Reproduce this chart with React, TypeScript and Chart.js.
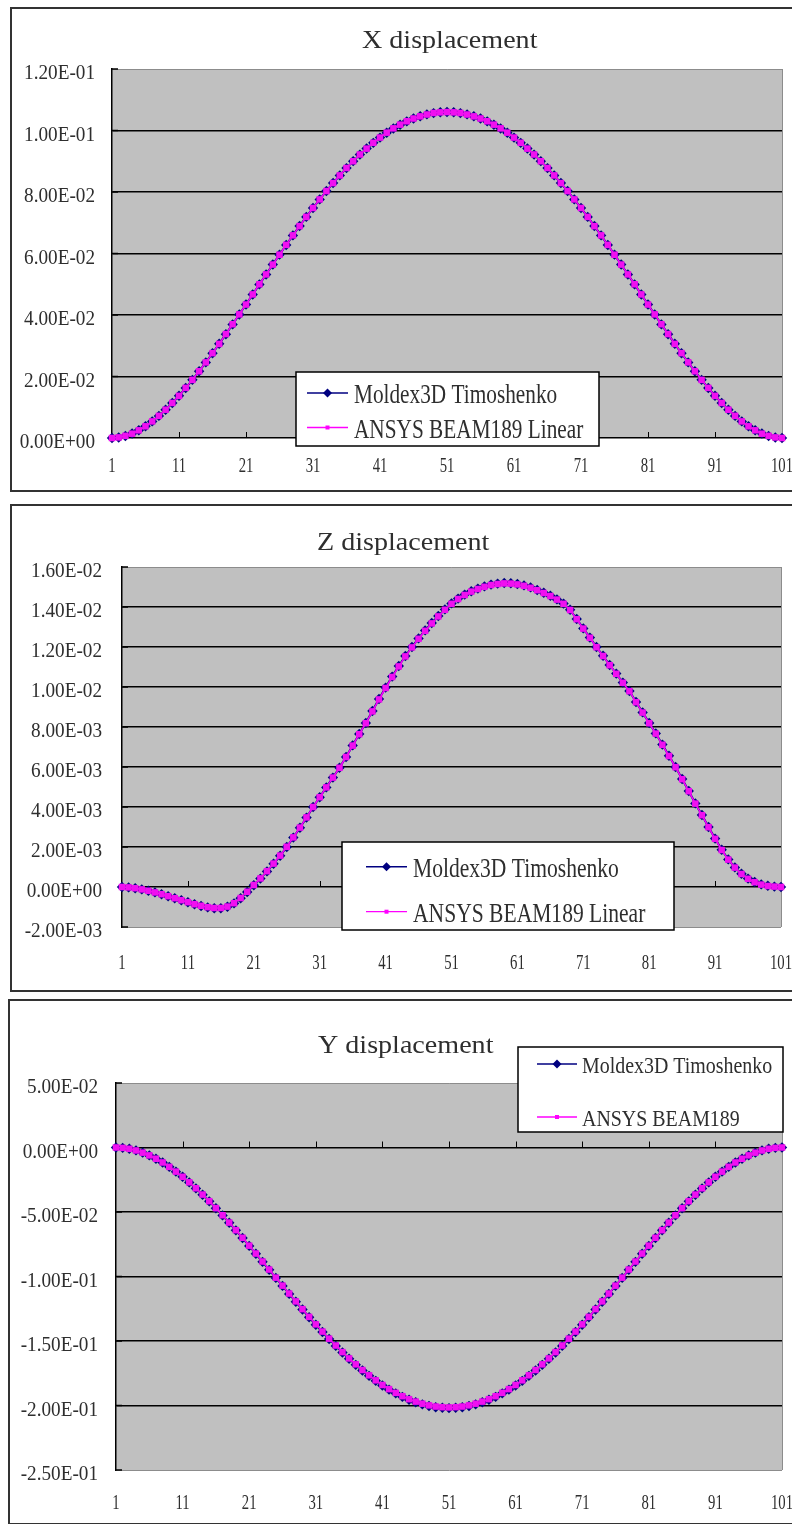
import React, { useEffect, useRef } from "react";
import { Chart, registerables } from "chart.js";

Chart.register(...registerables);

// ---------- data ----------
const categories: string[] = Array.from({ length: 101 }, (_, i) => String(i + 1));
const xTickLabels = ["1", "11", "21", "31", "41", "51", "61", "71", "81", "91", "101"];

const namesXZ = ["Moldex3D Timoshenko", "ANSYS BEAM189 Linear"];
const namesY = ["Moldex3D Timoshenko", "ANSYS BEAM189"];

const xMoldex = [
  0, 0.00017, 0.00065, 0.00144, 0.0025, 0.00383, 0.0054, 0.00719, 0.00919, 0.01137,
  0.01374, 0.01625, 0.01891, 0.0217, 0.02458, 0.02757, 0.03063, 0.03376, 0.03695, 0.04017,
  0.04342, 0.04668, 0.04995, 0.05319, 0.05642, 0.05963, 0.06278, 0.06589, 0.06893, 0.0719,
  0.07479, 0.07759, 0.08031, 0.08291, 0.0854, 0.08778, 0.09003, 0.09216, 0.09414, 0.09598,
  0.09769, 0.09925, 0.10065, 0.10189, 0.10297, 0.10389, 0.10464, 0.10524, 0.10566, 0.10592,
  0.106,
  0.10592, 0.10566, 0.10524, 0.10464, 0.10389, 0.10297, 0.10189, 0.10065, 0.09925, 0.09769,
  0.09598, 0.09414, 0.09216, 0.09003, 0.08778, 0.0854, 0.08291, 0.08031, 0.07759, 0.07479,
  0.0719, 0.06893, 0.06589, 0.06278, 0.05963, 0.05642, 0.05319, 0.04995, 0.04668, 0.04342,
  0.04017, 0.03695, 0.03376, 0.03063, 0.02757, 0.02458, 0.0217, 0.01891, 0.01625, 0.01374,
  0.01137, 0.00919, 0.00719, 0.0054, 0.00383, 0.0025, 0.00144, 0.00065, 0.00017, 0,
];
const xAnsys = [
  0, 0.0002, 0.0007, 0.0014, 0.0025, 0.0038, 0.0054, 0.0072, 0.0092, 0.0114,
  0.0137, 0.0163, 0.0189, 0.0217, 0.0246, 0.0276, 0.0306, 0.0338, 0.037, 0.0402,
  0.0434, 0.0467, 0.05, 0.0532, 0.0564, 0.0596, 0.0628, 0.0659, 0.0689, 0.0719,
  0.0748, 0.0776, 0.0803, 0.0829, 0.0854, 0.0878, 0.09, 0.0922, 0.0941, 0.096,
  0.0977, 0.0993, 0.1007, 0.1019, 0.103, 0.1039, 0.1046, 0.1052, 0.1057, 0.1059,
  0.106,
  0.1059, 0.1057, 0.1052, 0.1046, 0.1039, 0.103, 0.1019, 0.1007, 0.0993, 0.0977,
  0.096, 0.0941, 0.0922, 0.09, 0.0878, 0.0854, 0.0829, 0.0803, 0.0776, 0.0748,
  0.0719, 0.0689, 0.0659, 0.0628, 0.0596, 0.0564, 0.0532, 0.05, 0.0467, 0.0434,
  0.0402, 0.037, 0.0338, 0.0306, 0.0276, 0.0246, 0.0217, 0.0189, 0.0163, 0.0137,
  0.0114, 0.0092, 0.0072, 0.0054, 0.0038, 0.0025, 0.0014, 0.0007, 0.0002, 0,
];

const zMoldex = [
  0, -0.00002, -0.00006, -0.00012, -0.00019, -0.00027, -0.00036, -0.00046, -0.00056, -0.00066,
  -0.00076, -0.00086, -0.00095, -0.00102, -0.00106, -0.00106, -0.00099, -0.00082, -0.00056, -0.00025,
  0.00009, 0.00042, 0.00078, 0.00116, 0.00156, 0.002, 0.00247, 0.00296, 0.00347, 0.004,
  0.00449, 0.00498, 0.00547, 0.00596, 0.0065, 0.00708, 0.00765, 0.0082, 0.0088, 0.0094,
  0.00997, 0.01052, 0.01105, 0.01155, 0.012, 0.01243, 0.01283, 0.0132, 0.01355, 0.01388,
  0.01418, 0.01442, 0.01462, 0.01479, 0.01492, 0.01503, 0.01512, 0.01517, 0.0152, 0.01519,
  0.01515, 0.01508, 0.01498, 0.01485, 0.01471, 0.01456, 0.01438, 0.01417, 0.01386, 0.0134,
  0.01293, 0.01247, 0.012, 0.01156, 0.0111, 0.01067, 0.01022, 0.0098, 0.00925, 0.00873,
  0.0082, 0.00768, 0.00712, 0.00656, 0.006, 0.0054, 0.0048, 0.00418, 0.0036, 0.003,
  0.00242, 0.00186, 0.00138, 0.00098, 0.00066, 0.00042, 0.00025, 0.00013, 0.00006, 0.00002,
  0,
];
const zAnsys = [
  0, -0.00002, -0.00006, -0.00012, -0.00019, -0.00027, -0.00036, -0.00046, -0.00056, -0.00066,
  -0.00076, -0.00086, -0.00094, -0.00101, -0.00105, -0.00105, -0.00098, -0.00081, -0.00055, -0.00024,
  0.0001, 0.00043, 0.00079, 0.00117, 0.00157, 0.00201, 0.00248, 0.00297, 0.00348, 0.004,
  0.00449, 0.00498, 0.00547, 0.00596, 0.0065, 0.00707, 0.00764, 0.00819, 0.00878, 0.00938,
  0.00995, 0.0105, 0.01103, 0.01153, 0.01198, 0.01241, 0.01281, 0.01318, 0.01353, 0.01386,
  0.01416, 0.0144, 0.0146, 0.01477, 0.0149, 0.01501, 0.0151, 0.01515, 0.01518, 0.01517,
  0.01513, 0.01506, 0.01496, 0.01484, 0.0147, 0.01455, 0.01437, 0.01416, 0.01385, 0.01339,
  0.01292, 0.01246, 0.01199, 0.01155, 0.01109, 0.01066, 0.01021, 0.00979, 0.00924, 0.00872,
  0.00819, 0.00767, 0.00711, 0.00655, 0.00599, 0.00539, 0.00479, 0.00417, 0.00359, 0.00299,
  0.00241, 0.00185, 0.00137, 0.00097, 0.00065, 0.00041, 0.00024, 0.00012, 0.00005, 0.00002,
  0,
];

const yMoldex = [
  0, -0.00026, -0.00102, -0.00226, -0.00398, -0.00612, -0.00869, -0.01166, -0.01501, -0.01871,
  -0.02273, -0.02707, -0.03171, -0.0366, -0.04173, -0.04709, -0.05264, -0.05834, -0.06422, -0.0702,
  -0.07626, -0.08242, -0.08864, -0.09486, -0.1011, -0.1073, -0.1135, -0.1196, -0.1256, -0.1316,
  -0.1374, -0.143, -0.1485, -0.1538, -0.1589, -0.1638, -0.1685, -0.1729, -0.177, -0.1809,
  -0.1845, -0.1877, -0.1906, -0.1933, -0.1956, -0.1975, -0.1991, -0.2004, -0.2013, -0.2018,
  -0.202,
  -0.2018, -0.2013, -0.2004, -0.1991, -0.1975, -0.1956, -0.1933, -0.1906, -0.1877, -0.1845,
  -0.1809, -0.177, -0.1729, -0.1685, -0.1638, -0.1589, -0.1538, -0.1485, -0.143, -0.1374,
  -0.1316, -0.1256, -0.1196, -0.1135, -0.1073, -0.1011, -0.09486, -0.08864, -0.08242, -0.07626,
  -0.0702, -0.06422, -0.05834, -0.05264, -0.04709, -0.04173, -0.0366, -0.03171, -0.02707, -0.02273,
  -0.01871, -0.01501, -0.01166, -0.00869, -0.00612, -0.00398, -0.00226, -0.00102, -0.00026, 0,
];
const yAnsys = [
  0, -0.0003, -0.001, -0.0023, -0.004, -0.0061, -0.0087, -0.0116, -0.015, -0.0187,
  -0.0227, -0.027, -0.0316, -0.0365, -0.0416, -0.047, -0.0525, -0.0582, -0.0641, -0.07,
  -0.0761, -0.0822, -0.0884, -0.0946, -0.1009, -0.1071, -0.1132, -0.1193, -0.1253, -0.1313,
  -0.1371, -0.1427, -0.1482, -0.1535, -0.1586, -0.1635, -0.1681, -0.1725, -0.1766, -0.1805,
  -0.1841, -0.1873, -0.1902, -0.1928, -0.1951, -0.197, -0.1986, -0.1999, -0.2008, -0.2013,
  -0.2015,
  -0.2013, -0.2008, -0.1999, -0.1986, -0.197, -0.1951, -0.1928, -0.1902, -0.1873, -0.1841,
  -0.1805, -0.1766, -0.1725, -0.1681, -0.1635, -0.1586, -0.1535, -0.1482, -0.1427, -0.1371,
  -0.1313, -0.1253, -0.1193, -0.1132, -0.1071, -0.1009, -0.0946, -0.0884, -0.0822, -0.0761,
  -0.07, -0.0641, -0.0582, -0.0525, -0.047, -0.0416, -0.0365, -0.0316, -0.027, -0.0227,
  -0.0187, -0.015, -0.0116, -0.0087, -0.0061, -0.004, -0.0023, -0.001, -0.0003, 0,
];

// ---------- styling / layout ----------
const FONT = '"Liberation Serif", "Times New Roman", serif';
const TEXT = "#2e2e2e";
const NAVY = "#000080";
const MAGENTA = "#FF00FF";
const W = 792;

type Spec = {
  title: string;
  titleX: number;
  titleY: number;
  titleSize: number;
  titleSx: number;
  top: number;
  height: number;
  area: { left: number; right: number; top: number; bottom: number };
  yMin: number;
  yMax: number;
  yStep: number;
  yGap: number;
  xLabelY: number;
  moldex: number[];
  ansys: number[];
  names: string[];
  legend: { x: number; y: number; w: number; h: number; rows: number[]; l0: number; l1: number; tx: number; size: number; sx: number };
  frame: { left: number; top: number; height: number };
};

const specs: Spec[] = [
  {
    title: "X displacement", titleX: 362, titleY: 41, titleSize: 26, titleSx: 1.08,
    top: 7, height: 484,
    area: { left: 112, right: 782, top: 62, bottom: 431 },
    yMin: 0, yMax: 0.12, yStep: 0.02, yGap: 17, xLabelY: 458,
    moldex: xMoldex, ansys: xAnsys, names: namesXZ,
    legend: { x: 296, y: 365, w: 303, h: 74, rows: [386, 420.5], l0: 307, l1: 348, tx: 354, size: 28, sx: 0.76 },
    frame: { left: 10, top: 7, height: 485 },
  },
  {
    title: "Z displacement", titleX: 317, titleY: 45, titleSize: 26, titleSx: 1.08,
    top: 505, height: 486,
    area: { left: 122, right: 781, top: 62, bottom: 422 },
    yMin: -0.002, yMax: 0.016, yStep: 0.002, yGap: 20, xLabelY: 457,
    moldex: zMoldex, ansys: zAnsys, names: namesXZ,
    legend: { x: 342, y: 337, w: 332, h: 88, rows: [361.7, 406.7], l0: 366, l1: 407, tx: 413, size: 28, sx: 0.77 },
    frame: { left: 10, top: 504, height: 488 },
  },
  {
    title: "Y displacement", titleX: 318, titleY: 53, titleSize: 26, titleSx: 1.08,
    top: 1000, height: 524,
    area: { left: 116, right: 782, top: 83, bottom: 470 },
    yMin: -0.25, yMax: 0.05, yStep: 0.05, yGap: 18, xLabelY: 502,
    moldex: yMoldex, ansys: yAnsys, names: namesY,
    legend: { x: 518, y: 47, w: 265, h: 85, rows: [64, 117], l0: 537, l1: 577, tx: 582, size: 24, sx: 0.83 },
    frame: { left: 8, top: 999, height: 526 },
  },
];

function fmtSci(v: number): string {
  if (Math.abs(v) < 1e-12) return "0.00E+00";
  const [m, e] = v.toExponential(2).split("e");
  const n = parseInt(e, 10);
  return `${m}E${n < 0 ? "-" : "+"}${String(Math.abs(n)).padStart(2, "0")}`;
}

function txt(ctx: CanvasRenderingContext2D, s: string, x: number, y: number, size: number, sx: number, align: "left" | "center" | "right") {
  ctx.save();
  ctx.font = `${size}px ${FONT}`;
  ctx.fillStyle = TEXT;
  ctx.textBaseline = "alphabetic";
  ctx.textAlign = "left";
  const w = ctx.measureText(s).width * sx;
  const x0 = align === "left" ? x : align === "center" ? x - w / 2 : x - w;
  ctx.translate(x0, y);
  ctx.scale(sx, 1);
  ctx.fillText(s, 0, 0);
  ctx.restore();
}

function DispChart({ spec }: { spec: Spec }) {
  const ref = useRef<HTMLCanvasElement>(null);
  useEffect(() => {
    const canvas = ref.current;
    if (!canvas) return;
    const a = spec.area;
    const isEdge = (v: number) => Math.abs(v - spec.yMin) < 1e-9 || Math.abs(v - spec.yMax) < 1e-9;
    const isZero = (v: number) => Math.abs(v) < 1e-12;

    const decor = {
      id: "decor",
      beforeDraw(chart: any) {
        const { ctx, chartArea: ca } = chart;
        ctx.save();
        ctx.fillStyle = "#C0C0C0";
        ctx.fillRect(ca.left, ca.top, ca.right - ca.left, ca.bottom - ca.top);
        ctx.restore();
      },
      beforeDatasetsDraw(chart: any) {
        const { ctx, chartArea: ca, scales } = chart;
        const xs = scales.x;
        const ys = scales.y;
        ctx.save();
        ctx.strokeStyle = "#8c8c8c";
        ctx.lineWidth = 1;
        ctx.beginPath();
        ctx.moveTo(Math.round(ca.right) + 0.5, ca.top);
        ctx.lineTo(Math.round(ca.right) + 0.5, ca.bottom);
        ctx.stroke();
        ctx.strokeStyle = "#000";
        ctx.lineWidth = 1.5;
        for (const t of ys.ticks) {
          const py = ys.getPixelForValue(t.value);
          ctx.beginPath();
          ctx.moveTo(ca.left, py);
          ctx.lineTo(ca.left + 6, py);
          ctx.stroke();
        }
        const y0 = ys.getPixelForValue(0);
        ctx.lineWidth = 1;
        for (const lbl of xTickLabels) {
          const i = categories.indexOf(lbl);
          if (i <= 0 || i >= categories.length - 1) continue;
          const px = Math.round(xs.getPixelForValue(i)) + 0.5;
          ctx.beginPath();
          ctx.moveTo(px, y0);
          ctx.lineTo(px, y0 - 6);
          ctx.stroke();
        }
        ctx.restore();
      },
      afterDraw(chart: any) {
        const { ctx, scales } = chart;
        const xs = scales.x;
        const ys = scales.y;
        for (const t of ys.ticks) {
          const py = ys.getPixelForValue(t.value);
          txt(ctx, fmtSci(t.value), a.left - spec.yGap, py + 3.5 + 0.33 * 20, 20, 0.96, "right");
        }
        for (const lbl of xTickLabels) {
          const i = categories.indexOf(lbl);
          const px = xs.getPixelForValue(i);
          txt(ctx, lbl, px, spec.xLabelY + 0.33 * 21, 21, 0.7, "center");
        }
        txt(ctx, spec.title, spec.titleX, spec.titleY, spec.titleSize, spec.titleSx, "left");
        const L = spec.legend;
        ctx.save();
        ctx.fillStyle = "#fff";
        ctx.fillRect(L.x, L.y, L.w, L.h);
        ctx.strokeStyle = "#000";
        ctx.lineWidth = 1.5;
        ctx.strokeRect(L.x, L.y, L.w, L.h);
        const ds = chart.data.datasets;
        [0, 1].forEach((di, r) => {
          const d = ds[di];
          const ry = L.rows[r];
          ctx.strokeStyle = d.borderColor;
          ctx.lineWidth = di === 0 ? 1.6 : 1.3;
          ctx.beginPath();
          ctx.moveTo(L.l0, ry);
          ctx.lineTo(L.l1, ry);
          ctx.stroke();
          const mx = (L.l0 + L.l1) / 2;
          ctx.fillStyle = d.borderColor;
          ctx.beginPath();
          if (di === 0) {
            const rr = 4.5;
            ctx.moveTo(mx - rr, ry);
            ctx.lineTo(mx, ry - rr);
            ctx.lineTo(mx + rr, ry);
            ctx.lineTo(mx, ry + rr);
            ctx.closePath();
          } else {
            ctx.rect(mx - 2, ry - 2, 4, 4);
          }
          ctx.fill();
          txt(ctx, d.label, L.tx, ry + 0.36 * L.size, L.size, L.sx, "left");
        });
        ctx.restore();
      },
    };

    const chart = new Chart(canvas, {
      type: "line",
      data: {
        labels: categories,
        datasets: [
          {
            label: spec.names[0],
            data: spec.moldex,
            borderColor: NAVY,
            backgroundColor: NAVY,
            borderWidth: 2,
            pointStyle: "rectRot",
            pointRadius: 5.2,
            pointBorderWidth: 0,
            pointBackgroundColor: NAVY,
            tension: 0,
            clip: false,
            order: 2,
          } as any,
          {
            label: spec.names[1],
            data: spec.ansys,
            borderColor: MAGENTA,
            backgroundColor: MAGENTA,
            borderWidth: 1.5,
            pointStyle: "rect",
            pointRadius: 4.6,
            pointBorderWidth: 0,
            pointBackgroundColor: "#F010F0",
            tension: 0,
            clip: false,
            order: 1,
          } as any,
        ],
      },
      options: {
        animation: false,
        responsive: false,
        events: [],
        layout: { padding: { left: 0, top: a.top, right: W - a.right, bottom: 0 } },
        plugins: { legend: { display: false }, title: { display: false }, tooltip: { enabled: false } },
        scales: {
          x: {
            type: "category",
            offset: false,
            grid: { display: false, drawTicks: false },
            border: { display: false },
            ticks: { display: false },
            afterFit: (s: any) => {
              s.height = spec.height - a.bottom;
            },
          },
          y: {
            type: "linear",
            min: spec.yMin,
            max: spec.yMax,
            ticks: { display: false, stepSize: spec.yStep },
            grid: {
              drawTicks: false,
              color: (c: any) => {
                const v = c.tick ? c.tick.value : 0;
                if (isZero(v)) return "#000";
                return isEdge(v) ? "#8c8c8c" : "#000";
              },
              lineWidth: (c: any) => {
                const v = c.tick ? c.tick.value : 0;
                if (isZero(v)) return 1.5;
                return isEdge(v) ? 1 : 1.5;
              },
            },
            border: { display: true, color: "#000", width: 1.5 },
            afterFit: (s: any) => {
              s.width = a.left;
            },
          },
        },
      },
      plugins: [decor],
    } as any);
    return () => chart.destroy();
  }, [spec]);

  return (
    <canvas
      ref={ref}
      width={W}
      height={spec.height}
      style={{ position: "absolute", left: 0, top: spec.top, width: W, height: spec.height }}
    />
  );
}

export default function App() {
  return (
    <div style={{ position: "absolute", left: 0, top: 0, width: W, height: 1524, overflow: "hidden", background: "#fff" }}>
      {specs.map((s, i) => (
        <div
          key={"f" + i}
          style={{
            position: "absolute",
            left: s.frame.left,
            top: s.frame.top,
            width: 800 - s.frame.left,
            height: s.frame.height,
            border: "2px solid #333",
            boxSizing: "border-box",
          }}
        />
      ))}
      {specs.map((s, i) => (
        <DispChart key={"c" + i} spec={s} />
      ))}
    </div>
  );
}
